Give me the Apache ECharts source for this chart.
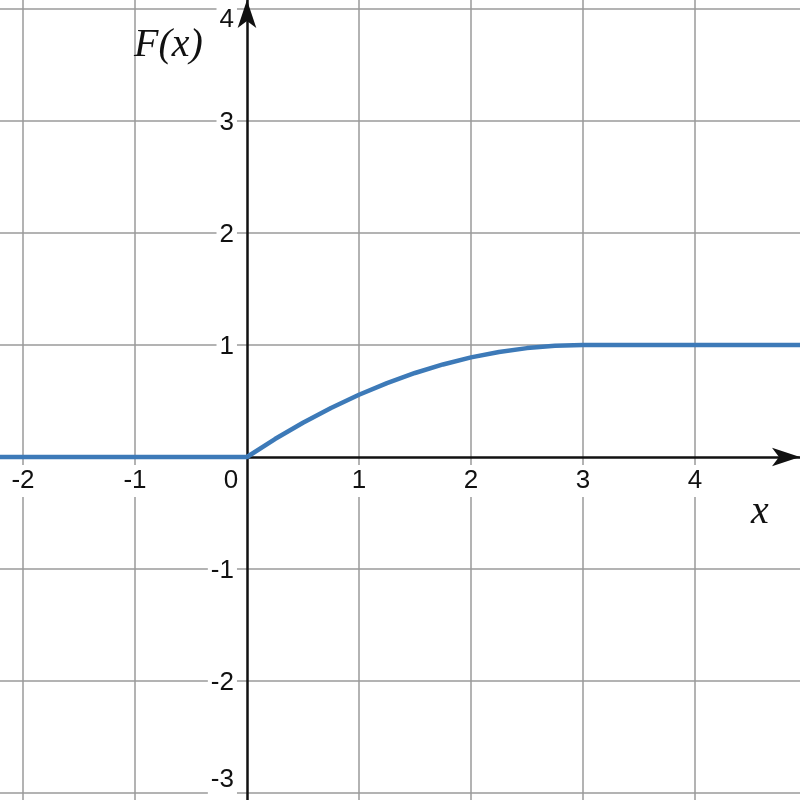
<!DOCTYPE html>
<html>
<head>
<meta charset="utf-8">
<script src="https://cdn.jsdelivr.net/npm/echarts@6/dist/echarts.min.js"></script>
<style>html,body{margin:0;padding:0;background:#fff;}#c{width:800px;height:800px;}</style>
</head>
<body>
<div id="c"></div>
<script>
// Axis ranges and ticks
var xMin = -2.205, xMax = 4.9375;
var yMin = -3.0625, yMax = 4.08;
var xTicks = [-2, -1, 1, 2, 3, 4];
var yTicks = [-3, -2, -1, 1, 2, 3, 4];
var xGrid = [-2, -1, 0, 1, 2, 3, 4];
var yGrid = [-3, -2, -1, 0, 1, 2, 3, 4];
// Curve values
var curveX = [-2.205, 0, 0.25, 0.5, 0.75, 1, 1.25, 1.5, 1.75, 2, 2.25, 2.5, 2.75, 3, 4.9375];
var curveY = [0, 0, 0.160, 0.306, 0.438, 0.556, 0.660, 0.750, 0.826, 0.889, 0.938, 0.972, 0.993, 1, 1];

var chart = echarts.init(document.getElementById('c'), null, {renderer: 'canvas'});
var gridColor = '#9a9a9a';

var gridLines = [];
xGrid.forEach(function (v) { if (v !== 0) gridLines.push({xAxis: v}); });
yGrid.forEach(function (v) { if (v !== 0) gridLines.push({yAxis: v}); });

var option = {
  animation: false,
  backgroundColor: '#fff',
  grid: {left: 0, right: 0, top: 0, bottom: 0, containLabel: false},
  xAxis: {
    type: 'value', min: xMin, max: xMax,
    splitLine: {show: false}, axisTick: {show: false}, axisLabel: {show: false},
    axisLine: {show: true, onZero: true, symbol: ['none', 'arrow'], symbolSize: [14, 28],
      lineStyle: {color: '#111', width: 2.5}},
    z: 5
  },
  yAxis: {
    type: 'value', min: yMin, max: yMax,
    splitLine: {show: false}, axisTick: {show: false}, axisLabel: {show: false},
    axisLine: {show: true, onZero: true, symbol: ['none', 'arrow'], symbolSize: [14, 28],
      lineStyle: {color: '#111', width: 2.5}},
    z: 5
  },
  series: [
    {
      type: 'line', data: [], silent: true, z: 1,
      markLine: {
        silent: true, symbol: ['none', 'none'], animation: false,
        label: {show: false},
        lineStyle: {color: gridColor, width: 1.5, type: 'solid', opacity: 1},
        emphasis: {disabled: true},
        data: gridLines
      }
    },
    {
      type: 'line', z: 10, symbol: 'none', silent: true, smooth: false,
      lineStyle: {color: '#3d7ab8', width: 4.5},
      data: curveX.map(function (x, i) { return [x, curveY[i]]; })
    }
  ]
};
chart.setOption(option);

function tickText(x, y, txt, align) {
  return {type: 'text', x: x, y: y, z: 50,
    style: {text: txt, fontFamily: 'Liberation Sans', fontSize: 26, fill: '#111',
      align: align, verticalAlign: 'middle', backgroundColor: '#fff', padding: [3, 3]}};
}

// Tick labels placed through the chart's own scales
var graphics = [];
xTicks.forEach(function (v) {
  var p = chart.convertToPixel({gridIndex: 0}, [v, 0]);
  graphics.push(tickText(p[0], p[1] + 24, String(v), 'center'));
});
yTicks.forEach(function (v, i) {
  var p = chart.convertToPixel({gridIndex: 0}, [0, v]);
  var dy = 2;
  if (i === yTicks.length - 1) dy = 11;
  if (i === 0) dy = -13;
  graphics.push(tickText(p[0] - 10, p[1] + dy, String(v), 'right'));
});
var o = chart.convertToPixel({gridIndex: 0}, [0, 0]);
graphics.push(tickText(o[0] - 16, o[1] + 24, '0', 'center'));
graphics.push({type: 'text', x: 134, y: 25, z: 100,
  style: {text: 'F(x)', fontFamily: 'Liberation Serif', fontStyle: 'italic', fontSize: 40, fill: '#111'}});
graphics.push({type: 'text', x: 751, y: 492, z: 100,
  style: {text: 'x', fontFamily: 'Liberation Serif', fontStyle: 'italic', fontSize: 40, fill: '#111'}});
chart.setOption({graphic: graphics});
</script>
</body>
</html>
